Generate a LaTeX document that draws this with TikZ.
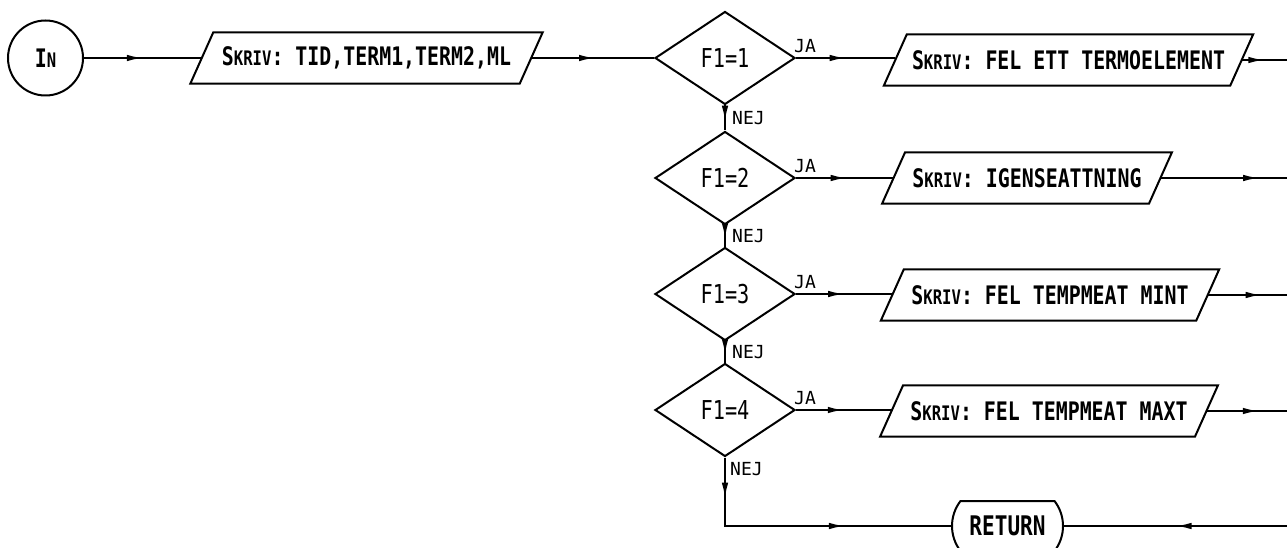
\documentclass[tikz,border=0pt]{standalone}
\usepackage{fontspec}
\usetikzlibrary{shapes.geometric,shapes.misc,arrows.meta,decorations.markings,calc}
\newfontfamily\pf[FakeStretch=0.78]{DejaVu Sans Mono}
\newfontfamily\lf{DejaVu Sans Mono}
\newcommand\smc[1]{{\fontsize{20}{22}\selectfont #1}}
\newcommand\pgram[1]{\draw[ln] ([xshift=-11.5pt]#1.south west) -- ([xshift=11.5pt]#1.north west) -- ([xshift=11.5pt]#1.north east) -- ([xshift=-11.5pt]#1.south east) -- cycle;}
\begin{document}
\begin{tikzpicture}[x=1pt,y=-1pt,
  ln/.style={line width=2pt, line join=miter},
  txt/.style={font=\pf\bfseries\fontsize{25.5}{27}\selectfont},
  pbox/.style={txt, inner sep=0pt, minimum height=51pt},
  dec/.style={font=\pf\fontsize{26}{28}\selectfont, draw, ln, shape=diamond, inner sep=0pt, minimum width=140pt, minimum height=93pt},
  lab/.style={font=\lf\fontsize{18}{19}\selectfont, inner sep=0pt},
  midarrow/.style={postaction={decorate}, decoration={markings, mark=at position #1 with {\arrow{Latex[length=16pt,width=6.5pt]}}}},
  midarrow/.default=0.5,
  twoarrows/.style={postaction={decorate}, decoration={markings,
     mark=at position 0.14 with {\arrow{Latex[length=16pt,width=6.5pt]}},
     mark=at position 0.64 with {\arrow{Latex[length=16pt,width=6.5pt]}}}}]
\useasboundingbox (0,0) rectangle (1287,548);
\clip (0,0) rectangle (1287,548);

\node[draw, ln, circle, minimum size=75pt, inner sep=0pt, txt] (in) at (45.5,58) {I\smc{N}};
\node[pbox, minimum width=329pt] (b0) at (366.5,58) {S\smc{KRIV}: TID,TERM1,TERM2,ML};
\pgram{b0}
\node[dec] (d1) at (725,58) {F1=1};
\node[dec] (d2) at (725,178) {F1=2};
\node[dec] (d3) at (725,294) {F1=3};
\node[dec] (d4) at (725,410) {F1=4};
\node[pbox, minimum width=346pt] (b1) at (1068.5,60) {S\smc{KRIV}: FEL ETT TERMOELEMENT};
\node[pbox, minimum width=266.5pt] (b2) at (1027,178) {S\smc{KRIV}: IGENSEATTNING};
\node[pbox, minimum width=315pt] (b3) at (1050,295) {S\smc{KRIV}: FEL TEMPMEAT MINT};
\node[pbox, minimum width=314.5pt] (b4) at (1049,411) {S\smc{KRIV}: FEL TEMPMEAT MAXT};
\pgram{b1}\pgram{b2}\pgram{b3}\pgram{b4}
\node[draw, ln, rounded rectangle, rounded rectangle arc length=75, minimum width=111pt, minimum height=50pt, inner sep=0pt, font=\pf\bfseries\fontsize{27}{29}\selectfont] (ret) at (1007.5,526) {RETURN};

\coordinate (edge) at (1287,0);
\coordinate (corner) at (d4.south |- ret.west);

\draw[ln, midarrow=0.5] (in) -- (b0);
\draw[ln, midarrow=0.52] (b0) -- (d1);
\draw[ln, midarrow=0.5] (d1.east) -- (d1.east -| b1.west);
\draw[ln, midarrow=0.52] (d2.east) -- (d2.east -| b2.west);
\draw[ln, midarrow=0.5] (d3.east) -- (d3.east -| b3.west);
\draw[ln, midarrow=0.5] (d4.east) -- (d4.east -| b4.west);
\draw[ln, midarrow=0.65] (d1.south) -- (d2.north);
\draw[ln, midarrow=0.65] (d2.south) -- (d3.north);
\draw[ln, midarrow=0.65] (d3.south) -- (d4.north);
\draw[ln, twoarrows] (d4.south) -- (corner) -- (ret.west);
\draw[ln, midarrow=0.5] (b1.east) -- (b1.east -| edge);
\draw[ln, midarrow=0.78] (b2.east) -- (b2.east -| edge);
\draw[ln, midarrow=0.68] (b3.east) -- (b3.east -| edge);
\draw[ln, midarrow=0.65] (b4.east) -- (b4.east -| edge);
\draw[ln, midarrow=0.5] (ret.east -| edge) -- (ret.east);

\node[lab, anchor=south west] (ja1) at ([xshift=-2pt,yshift=5pt]d1.east) {JA};
\node[lab, anchor=south west] (ja2) at ([xshift=-2pt,yshift=5pt]d2.east) {JA};
\node[lab, anchor=south west] (ja3) at ([xshift=-2pt,yshift=5pt]d3.east) {JA};
\node[lab, anchor=south west] (ja4) at ([xshift=-2pt,yshift=5pt]d4.east) {JA};
\path ($(d1.south)!0.5!(d2.north)$) ++(7,0) node[lab, anchor=west] (n1) {NEJ};
\path ($(d2.south)!0.5!(d3.north)$) ++(7,0) node[lab, anchor=west] (n2) {NEJ};
\path ($(d3.south)!0.5!(d4.north)$) ++(7,0) node[lab, anchor=west] (n3) {NEJ};
\node[lab, anchor=north west] (n4) at ([xshift=5pt,yshift=-5pt]d4.south) {NEJ};
\end{tikzpicture}
\end{document}
